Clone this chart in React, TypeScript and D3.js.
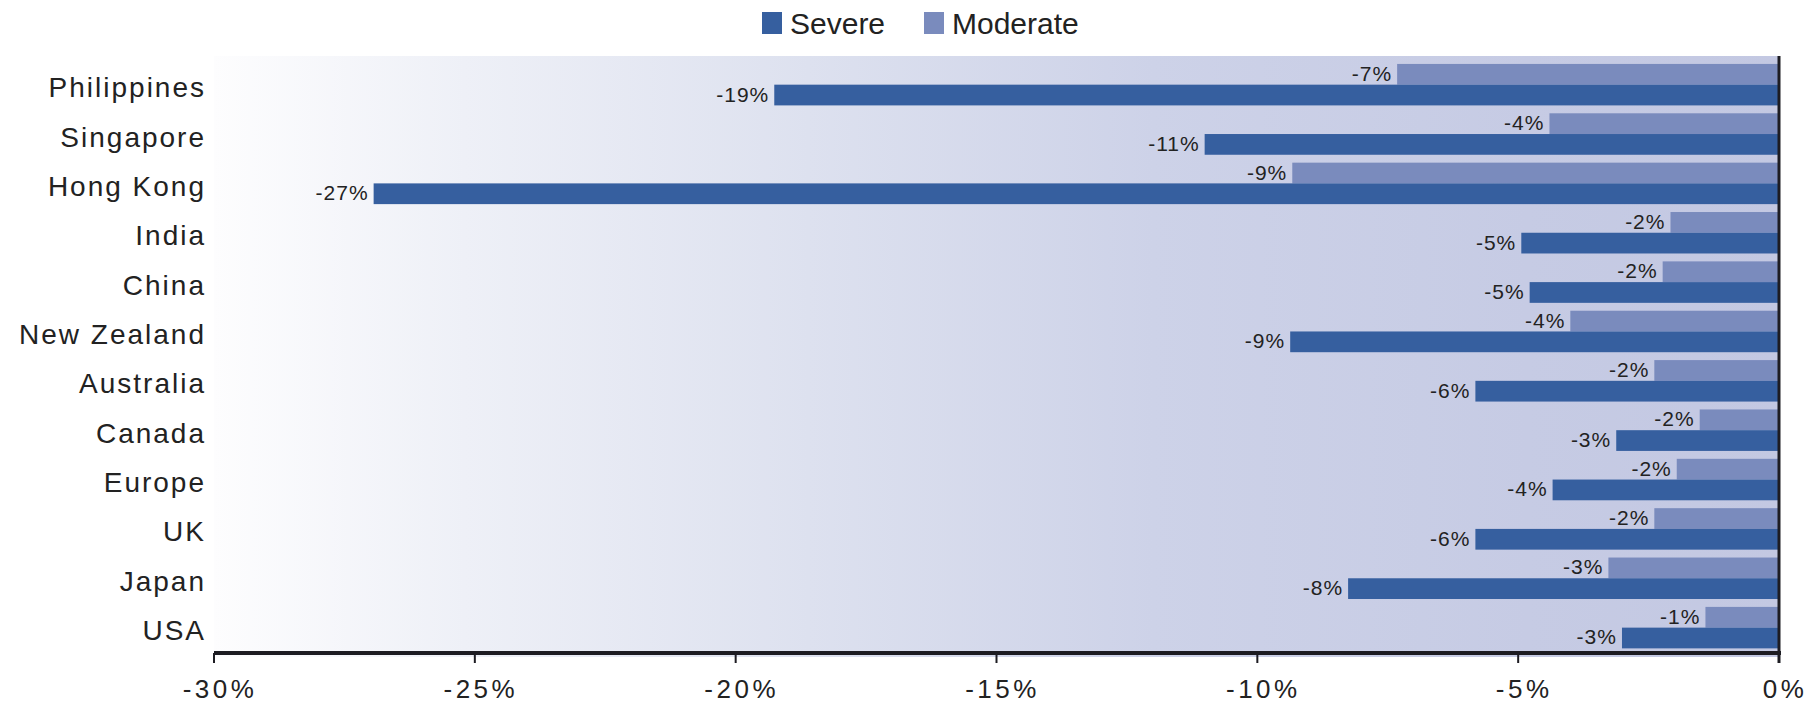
import React from "react";
import * as d3 from "d3";

// Share of loss under each scenario, by market (percent)
const categories = [
  "Philippines",
  "Singapore",
  "Hong Kong",
  "India",
  "China",
  "New Zealand",
  "Australia",
  "Canada",
  "Europe",
  "UK",
  "Japan",
  "USA",
];
const severe = [-19.26, -11.01, -26.94, -4.94, -4.78, -9.37, -5.82, -3.12, -4.34, -5.82, -8.26, -3.01];
const moderate = [-7.32, -4.4, -9.33, -2.08, -2.23, -4.0, -2.39, -1.52, -1.96, -2.39, -3.27, -1.41];
const seriesNames = ["Severe", "Moderate"];
const xTicks = [-30, -25, -20, -15, -10, -5, 0];

const W = 1814;
const H = 707;
const plot = { left: 214, right: 1779, top: 56, bottom: 657 };
const axisY = 653;
const font = "'Liberation Sans', Arial, sans-serif";
const colors: Record<string, string> = { Severe: "#365f9f", Moderate: "#7a8bbd" };
const textColor = "#222";

export default function App() {
  const x = d3.scaleLinear().domain([-30, 0]).range([plot.left, plot.right]);
  const y = d3
    .scaleBand<string>()
    .domain(categories)
    .range([59, 653.3])
    .paddingInner(0.16)
    .paddingOuter(0.1);
  // moderate sits on top of severe inside each group
  const inner = d3
    .scaleBand<string>()
    .domain(["Moderate", "Severe"])
    .range([0, y.bandwidth()]);
  const fmt = (v: number) => `${Math.round(v)}%`;

  const rows = categories.map((c, i) => ({
    category: c,
    values: [
      { key: "Moderate", value: moderate[i] },
      { key: "Severe", value: severe[i] },
    ],
  }));

  return (
    <svg
      width={W}
      height={H}
      style={{ position: "absolute", left: 0, top: 0, background: "#fff" }}
      fontFamily={font}
    >
      <defs>
        <linearGradient id="plotBg" x1="0" x2="1" y1="0" y2="0">
          <stop offset="0%" stopColor="#fdfdfe" />
          <stop offset="16%" stopColor="#eef0f7" />
          <stop offset="38%" stopColor="#dde1ef" />
          <stop offset="60%" stopColor="#cdd2e8" />
          <stop offset="84%" stopColor="#c6cbe4" />
          <stop offset="100%" stopColor="#c3c8e2" />
        </linearGradient>
      </defs>

      {/* legend */}
      <g>
        <rect x={762} y={12} width={20} height={22} fill={colors.Severe} />
        <text x={790} y={23} dominantBaseline="central" fontSize={30} fill={textColor}>
          {seriesNames[0]}
        </text>
        <rect x={924} y={12} width={20} height={22} fill={colors.Moderate} />
        <text x={952} y={23} dominantBaseline="central" fontSize={30} fill={textColor}>
          {seriesNames[1]}
        </text>
      </g>

      {/* plot background */}
      <rect
        x={plot.left}
        y={plot.top}
        width={plot.right - plot.left}
        height={plot.bottom - plot.top}
        fill="url(#plotBg)"
      />

      {/* bars */}
      {rows.map((r) => (
        <g key={r.category} transform={`translate(0,${y(r.category)})`}>
          {r.values.map((d) => {
            const x0 = x(d.value);
            const yy = inner(d.key)!;
            return (
              <g key={d.key}>
                <rect
                  x={x0}
                  y={yy}
                  width={x(0) - x0}
                  height={inner.bandwidth()}
                  fill={colors[d.key]}
                />
                <text
                  x={x0 - 5}
                  y={yy + inner.bandwidth() / 2 - 1}
                  textAnchor="end"
                  dominantBaseline="central"
                  fontSize={21}
                  letterSpacing={1}
                  fill={textColor}
                >
                  {fmt(d.value)}
                </text>
              </g>
            );
          })}
        </g>
      ))}

      {/* category labels */}
      {categories.map((c) => (
        <text
          key={c}
          x={206}
          y={y(c)! + y.bandwidth() / 2 + 3}
          textAnchor="end"
          dominantBaseline="central"
          fontSize={28}
          letterSpacing={2}
          fill={textColor}
        >
          {c}
        </text>
      ))}

      {/* axes */}
      <line x1={plot.left} x2={plot.right + 2} y1={axisY} y2={axisY} stroke="#1d1c22" strokeWidth={4} />
      <line
        x1={plot.right}
        x2={plot.right}
        y1={plot.top}
        y2={663}
        stroke="#1d1c22"
        strokeWidth={3}
      />
      {xTicks.map((t) => (
        <g key={t}>
          <line x1={x(t)} x2={x(t)} y1={axisY} y2={663} stroke="#1d1c22" strokeWidth={2} />
          <text
            x={Math.min(x(t) + 6, W - 26)}
            y={689}
            textAnchor="middle"
            dominantBaseline="central"
            fontSize={26}
            letterSpacing={3.5}
            fill={textColor}
          >
            {`${t}%`}
          </text>
        </g>
      ))}
    </svg>
  );
}
